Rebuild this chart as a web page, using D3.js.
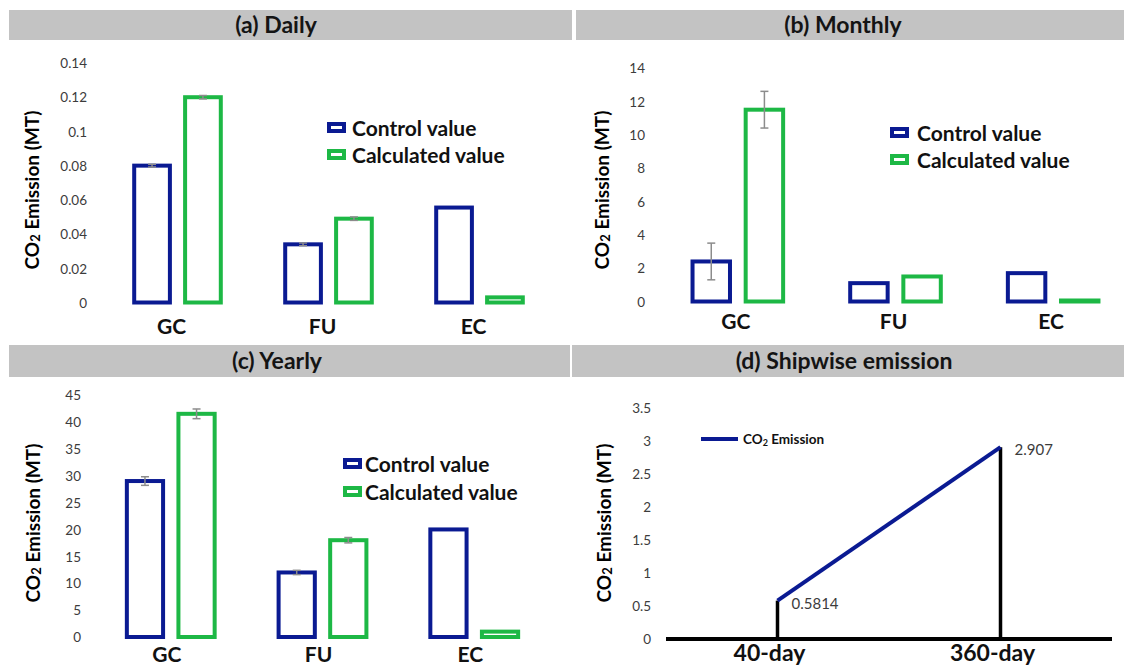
<!DOCTYPE html>
<html>
<head>
<meta charset="utf-8">
<script src="https://cdn.jsdelivr.net/npm/d3@7/dist/d3.min.js"></script>
<style>
  html, body { margin: 0; padding: 0; background: #fff; }
  svg { display: block; font-family: Lato, "Open Sans", sans-serif; }
</style>
</head>
<body>
<svg id="chart" width="1124" height="668"></svg>
<script>
// ---------------- DATA ----------------
const categories = ["GC", "FU", "EC"];
const seriesNames = ["Control value", "Calculated value"];

const dailyControl = [0.080, 0.034, 0.0555];
const dailyCalculated = [0.120, 0.049, 0.003];
const dailyControlErr = [0.0008, 0.0008, 0];
const dailyCalculatedErr = [0.001, 0.001, 0];
const dailyTicks = [0, 0.02, 0.04, 0.06, 0.08, 0.1, 0.12, 0.14];

const monthlyControl = [2.4, 1.1, 1.7];
const monthlyCalculated = [11.5, 1.5, 0.06];
const monthlyControlErr = [1.1, 0, 0];
const monthlyCalculatedErr = [1.1, 0, 0];
const monthlyTicks = [0, 2, 4, 6, 8, 10, 12, 14];

const yearlyControl = [29, 12, 20];
const yearlyCalculated = [41.5, 18, 1];
const yearlyControlErr = [0.8, 0.4, 0];
const yearlyCalculatedErr = [0.9, 0.5, 0];
const yearlyTicks = [0, 5, 10, 15, 20, 25, 30, 35, 40, 45];

const shipCategories = ["40-day", "360-day"];
const shipValues = [0.5814, 2.907];
const shipTicks = [0, 0.5, 1, 1.5, 2, 2.5, 3, 3.5];
const shipTickLabels = ["0", "0.5", "1", "1.5", "2", "2.5", "3", "3.5"];

const panelTitles = ["(a) Daily", "(b) Monthly", "(c) Yearly", "(d) Shipwise emission"];

// ---------------- STYLE ----------------
const BLUE = "#0a1a92";
const GREEN = "#1db845";
const colors = [BLUE, GREEN];
const BAND = "#c3c3c3";
const TICK_COLOR = "#3c3c3c";

const svg = d3.select("#chart");

function titleBand(x0, x1, y0, y1, text, cx, baseline) {
  svg.append("rect").attr("x", x0).attr("y", y0).attr("width", x1 - x0).attr("height", y1 - y0).attr("fill", BAND);
  svg.append("text").attr("x", cx).attr("y", baseline).attr("text-anchor", "middle")
    .attr("font-size", 23).attr("font-weight", 700).attr("fill", "#141414").text(text);
}

function yLabel(cx, cy) {
  const t = svg.append("text").attr("transform", `translate(${cx},${cy}) rotate(-90)`)
    .attr("text-anchor", "middle").attr("dominant-baseline", "central")
    .attr("font-size", 19).attr("font-weight", 700).attr("fill", "#000");
  t.append("tspan").text("CO");
  t.append("tspan").attr("font-size", 13).attr("dy", 4).text("2");
  t.append("tspan").attr("dy", -4).text(" Emission (MT)");
}

function yAxis(y, ticks, labels, xRight) {
  const ax = d3.axisLeft(y).tickValues(ticks).tickSize(0).tickPadding(0)
    .tickFormat((d, i) => labels ? labels[i] : String(d));
  const g = svg.append("g").attr("transform", `translate(${xRight},0)`).call(ax);
  g.select(".domain").remove();
  g.selectAll("text").attr("font-size", 13.5).attr("fill", TICK_COLOR)
    .attr("font-family", "Lato, sans-serif").attr("dy", "0.35em");
}

function barPanel(opt) {
  const y = d3.scaleLinear().domain(opt.domain).range(opt.yRange);
  const x0 = d3.scaleBand().domain(categories).range(opt.xRange).paddingInner(opt.padInner).paddingOuter(0.2);
  const x1 = d3.scaleBand().domain(seriesNames).range([0, x0.bandwidth()]).paddingInner(0.22);

  yAxis(y, opt.ticks, null, opt.tickX);
  yLabel(opt.labelX, opt.labelY);

  const rows = categories.map((c, i) => ({
    cat: c,
    vals: [
      { s: seriesNames[0], v: opt.control[i], e: opt.controlErr[i] },
      { s: seriesNames[1], v: opt.calc[i], e: opt.calcErr[i] }
    ]
  }));

  const g = svg.append("g");
  const grp = g.selectAll("g.cat").data(rows).join("g")
    .attr("transform", d => `translate(${x0(d.cat)},0)`);

  grp.selectAll("rect").data(d => d.vals).join("rect")
    .attr("x", d => x1(d.s) + 2)
    .attr("width", x1.bandwidth() - 4)
    .attr("y", d => y(d.v))
    .attr("height", d => y(0) - y(d.v))
    .attr("fill", "none")
    .attr("stroke", (d, i) => colors[i])
    .attr("stroke-width", 4);

  const eb = grp.selectAll("g.err").data(d => d.vals.filter(v => v.e > 0)).join("g")
    .attr("stroke", "#8c8c8c").attr("stroke-width", 1.5);
  eb.append("line").attr("x1", d => x1(d.s) + x1.bandwidth() / 2).attr("x2", d => x1(d.s) + x1.bandwidth() / 2)
    .attr("y1", d => y(d.v + d.e)).attr("y2", d => y(d.v - d.e));
  eb.append("line").attr("x1", d => x1(d.s) + x1.bandwidth() / 2 - 4).attr("x2", d => x1(d.s) + x1.bandwidth() / 2 + 4)
    .attr("y1", d => y(d.v + d.e)).attr("y2", d => y(d.v + d.e));
  eb.append("line").attr("x1", d => x1(d.s) + x1.bandwidth() / 2 - 4).attr("x2", d => x1(d.s) + x1.bandwidth() / 2 + 4)
    .attr("y1", d => y(d.v - d.e)).attr("y2", d => y(d.v - d.e));

  // category labels
  g.selectAll("text.cat").data(categories).join("text")
    .attr("x", d => x0(d) + x0.bandwidth() / 2 + opt.catDx)
    .attr("y", opt.catY).attr("text-anchor", "middle")
    .attr("font-size", 21).attr("font-weight", 700).attr("fill", "#111").text(d => d);

  // legend
  const lg = svg.append("g").attr("transform", `translate(${opt.legX},${opt.legY})`);
  seriesNames.forEach((s, i) => {
    lg.append("rect").attr("x", 2).attr("y", i * opt.legStep + 2).attr("width", 15).attr("height", 7)
      .attr("fill", "#fff").attr("stroke", colors[i]).attr("stroke-width", 4);
    lg.append("text").attr("x", opt.legTextDx).attr("y", i * opt.legStep + 5.5).attr("dominant-baseline", "central")
      .attr("font-size", 21).attr("font-weight", 700).attr("fill", "#111").text(s);
  });
}

// ---------------- TITLES ----------------
titleBand(9, 572, 10, 40, panelTitles[0], 276, 33);
titleBand(576, 1124, 10, 40, panelTitles[1], 843, 33);
titleBand(9, 570, 345, 377, panelTitles[2], 277, 369);
titleBand(572, 1124, 345, 377, panelTitles[3], 844, 369);

// ---------------- PANELS a, b, c ----------------
barPanel({
  domain: [0, 0.14], yRange: [302.5, 63], ticks: dailyTicks, tickX: 87,
  xRange: [102, 555], padInner: 0.4,
  control: dailyControl, calc: dailyCalculated, controlErr: dailyControlErr, calcErr: dailyCalculatedErr,
  labelX: 31, labelY: 190, catY: 334, catDx: -6,
  legX: 327, legY: 122, legStep: 27, legTextDx: 25
});

barPanel({
  domain: [0, 14], yRange: [301.5, 68], ticks: monthlyTicks, tickX: 645,
  xRange: [659, 1132], padInner: 0.4,
  control: monthlyControl, calc: monthlyCalculated, controlErr: monthlyControlErr, calcErr: monthlyCalculatedErr,
  labelX: 601, labelY: 190, catY: 329, catDx: -2,
  legX: 890, legY: 127, legStep: 27, legTextDx: 27
});

barPanel({
  domain: [0, 45], yRange: [637, 395], ticks: yearlyTicks, tickX: 81,
  xRange: [94.5, 550.5], padInner: 0.395,
  control: yearlyControl, calc: yearlyCalculated, controlErr: yearlyControlErr, calcErr: yearlyCalculatedErr,
  labelX: 32, labelY: 523, catY: 662, catDx: -4,
  legX: 343, legY: 458, legStep: 28, legTextDx: 22
});

// ---------------- PANEL d ----------------
(function () {
  const y = d3.scaleLinear().domain([0, 3.5]).range([639, 408]);
  const x = d3.scalePoint().domain(shipCategories).range([666, 1112]).padding(0.5);
  yAxis(y, shipTicks, shipTickLabels, 651);
  yLabel(603, 523);

  svg.append("line").attr("x1", 666).attr("x2", 1112).attr("y1", y(0)).attr("y2", y(0))
    .attr("stroke", "#000").attr("stroke-width", 4);

  const pts = shipCategories.map((c, i) => ({ c, v: shipValues[i] }));
  svg.selectAll("line.drop").data(pts).join("line")
    .attr("x1", d => x(d.c)).attr("x2", d => x(d.c))
    .attr("y1", d => y(d.v)).attr("y2", y(0))
    .attr("stroke", "#000").attr("stroke-width", 3.5);

  svg.append("path").datum(pts)
    .attr("d", d3.line().x(d => x(d.c)).y(d => y(d.v)))
    .attr("fill", "none").attr("stroke", BLUE).attr("stroke-width", 4);

  svg.selectAll("text.val").data(pts).join("text")
    .attr("x", d => x(d.c) + 14).attr("y", d => y(d.v) + 2)
    .attr("dominant-baseline", "central")
    .attr("font-size", 15).attr("fill", TICK_COLOR).text(d => String(d.v));

  svg.selectAll("text.xcat").data(shipCategories).join("text")
    .attr("x", d => x(d) - 8).attr("y", 661).attr("text-anchor", "middle")
    .attr("font-size", 23).attr("font-weight", 700).attr("fill", "#111").text(d => d);

  // legend
  svg.append("line").attr("x1", 701).attr("x2", 738).attr("y1", 439).attr("y2", 439)
    .attr("stroke", BLUE).attr("stroke-width", 4);
  const lt = svg.append("text").attr("x", 743).attr("y", 439).attr("dominant-baseline", "central")
    .attr("font-size", 13.5).attr("font-weight", 700).attr("fill", "#111");
  lt.append("tspan").text("CO");
  lt.append("tspan").attr("font-size", 9).attr("dy", 3).text("2");
  lt.append("tspan").attr("dy", -3).text(" Emission");
})();
</script>
</body>
</html>
